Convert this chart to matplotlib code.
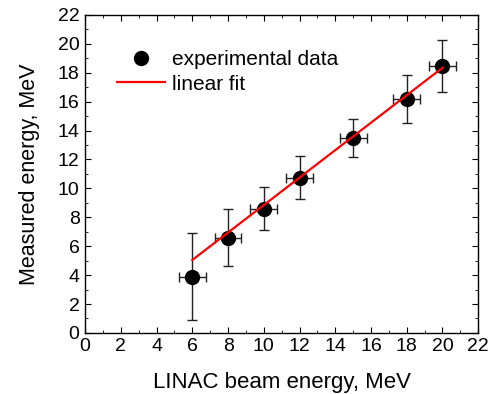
import matplotlib
matplotlib.use("Agg")
import matplotlib.pyplot as plt
import numpy as np
from matplotlib.ticker import MultipleLocator

plt.rcParams['font.family'] = ['Liberation Sans', 'DejaVu Sans']

# measured points
beam_energy = [6, 8, 10, 12, 15, 18, 20]
measured = [3.9, 6.6, 8.6, 10.75, 13.5, 16.2, 18.5]
x_err = [0.75, 0.75, 0.75, 0.75, 0.75, 0.75, 0.75]
y_err = [3.0, 2.0, 1.5, 1.5, 1.3, 1.65, 1.8]

# linear fit
fit_slope = 0.95
fit_intercept = -0.65
fit_range = [6, 20]

fig = plt.figure(figsize=(4.92, 3.94), dpi=100)
ax = fig.add_axes([0.173, 0.155, 0.799, 0.807])

ax.errorbar(beam_energy, measured, xerr=x_err, yerr=y_err, fmt='none',
            ecolor='#222222', elinewidth=1.0, capsize=3.5, capthick=1.0, zorder=2)
ax.plot(beam_energy, measured, 'o', color='black', markersize=10,
        label='experimental data', zorder=3)
fx = np.array(fit_range)
ax.plot(fx, fit_slope * fx + fit_intercept, color='red', lw=1.6,
        label='linear fit', zorder=4)

ax.set_xlim(0, 22)
ax.set_ylim(0, 22)
ax.xaxis.set_major_locator(MultipleLocator(2))
ax.yaxis.set_major_locator(MultipleLocator(2))
ax.xaxis.set_minor_locator(MultipleLocator(1))
ax.yaxis.set_minor_locator(MultipleLocator(1))
ax.tick_params(which='both', direction='in', top=True, right=True, labelsize=14, pad=4)
ax.tick_params(which='major', length=4.5)
ax.tick_params(which='minor', length=2.2)
for s in ax.spines.values():
    s.set_linewidth(1.0)

ax.set_xlabel('LINAC beam energy, MeV', fontsize=16, labelpad=12)
ax.set_ylabel('Measured energy, MeV', fontsize=15.5, labelpad=13)

ax.legend(loc='upper left', bbox_to_anchor=(0.081, 0.89), frameon=False,
          fontsize=15, handlelength=2.3, handletextpad=0.35, labelspacing=0.28,
          borderpad=0, borderaxespad=0)

fig.savefig('out.png', dpi=100)
